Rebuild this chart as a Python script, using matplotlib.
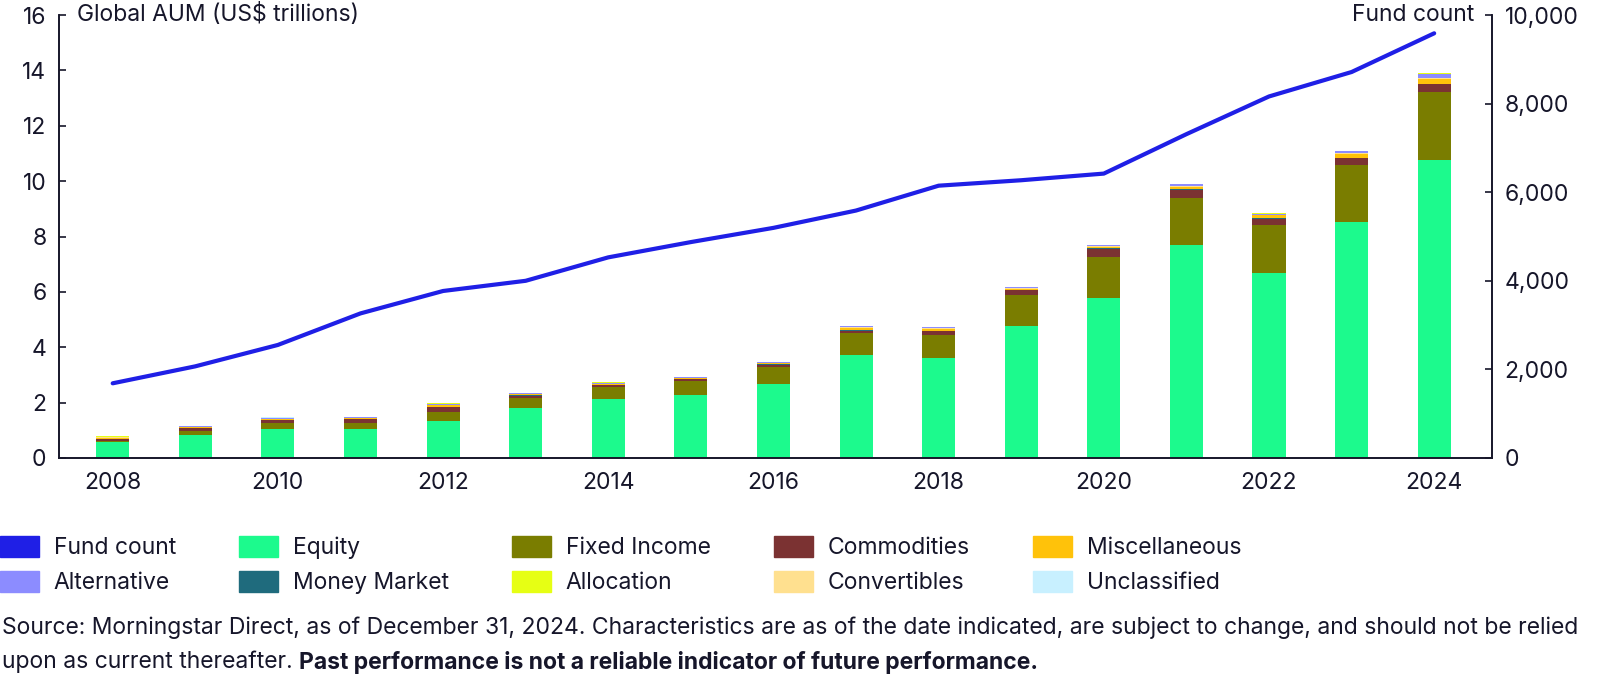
import numpy as np
import matplotlib
matplotlib.use('Agg')
import matplotlib.pyplot as plt
from matplotlib.patches import Patch

plt.rcParams['font.family'] = ['Inter', 'DejaVu Sans']

years = list(range(2008, 2025))

# AUM by category, US$ trillions
equity = [0.59, 0.83, 1.04, 1.04, 1.32, 1.81, 2.13, 2.26, 2.66, 3.72, 3.60, 4.77, 5.77, 7.69, 6.69, 8.52, 10.78]
fixed_income = [0.04, 0.14, 0.22, 0.22, 0.33, 0.37, 0.43, 0.53, 0.62, 0.78, 0.85, 1.13, 1.49, 1.71, 1.72, 2.06, 2.44]
commodities = [0.06, 0.11, 0.10, 0.15, 0.18, 0.07, 0.06, 0.05, 0.09, 0.10, 0.12, 0.16, 0.29, 0.28, 0.23, 0.24, 0.28]
money_market = [0.01, 0.01, 0.01, 0.01, 0.01, 0.01, 0.01, 0.01, 0.01, 0.02, 0.02, 0.02, 0.02, 0.02, 0.02, 0.02, 0.02]
miscellaneous = [0.04, 0.03, 0.03, 0.03, 0.06, 0.05, 0.05, 0.04, 0.05, 0.08, 0.07, 0.04, 0.06, 0.08, 0.10, 0.13, 0.16]
convertibles = [0.01, 0.01, 0.01, 0.01, 0.02, 0.01, 0.01, 0.01, 0.01, 0.02, 0.02, 0.02, 0.02, 0.03, 0.03, 0.03, 0.04]
alternative = [0.01, 0.01, 0.04, 0.02, 0.03, 0.03, 0.03, 0.02, 0.03, 0.04, 0.04, 0.03, 0.03, 0.07, 0.04, 0.08, 0.16]
allocation = [0.03, 0.02, 0.01, 0.01, 0.02, 0.01, 0.01, 0.01, 0.01, 0.01, 0.02, 0.01, 0.01, 0.01, 0.01, 0.01, 0.02]
unclassified = [0.005, 0.005, 0.005, 0.005, 0.005, 0.005, 0.005, 0.005, 0.005, 0.005, 0.005, 0.005, 0.005, 0.01, 0.01, 0.01, 0.01]

fund_count = [1686, 2069, 2552, 3264, 3770, 4000, 4529, 4874, 5195, 5586, 6147, 6270, 6420, 7310, 8161, 8713, 9587]

layers = [
    ('Equity', equity, '#1cfa8d'),
    ('Fixed Income', fixed_income, '#7a7d00'),
    ('Commodities', commodities, '#7b3232'),
    ('Money Market', money_market, '#1f6b7d'),
    ('Miscellaneous', miscellaneous, '#ffc20a'),
    ('Convertibles', convertibles, '#ffe08f'),
    ('Alternative', alternative, '#8c8cff'),
    ('Allocation', allocation, '#e6ff14'),
    ('Unclassified', unclassified, '#c8f0ff'),
]
line_color = '#1f1fe6'
text_color = '#16162a'
fs = 16.5

fig = plt.figure(figsize=(16, 6.81), dpi=100)
ax = fig.add_axes([59 / 1600, 1 - 458 / 681, (1492 - 59) / 1600, (458 - 15) / 681])
ax2 = ax.twinx()

bottom = np.zeros(len(years))
for name, vals, col in layers:
    ax.bar(years, vals, width=0.4, bottom=bottom, color=col, zorder=2)
    bottom += np.array(vals)

ax2.plot(years, fund_count, color=line_color, lw=3, solid_capstyle='round', zorder=3)

ax.set_xlim(2007.35, 2024.7)
ax.set_ylim(0, 16)
ax2.set_ylim(0, 10000)
ax.set_xticks(range(2008, 2025, 2))
ax.set_yticks(range(0, 17, 2))
ax2.set_yticks(range(0, 10001, 2000))
ax2.set_yticklabels(['0', '2,000', '4,000', '6,000', '8,000', '10,000'])

for a in (ax, ax2):
    a.spines['top'].set_visible(False)
    for s in a.spines.values():
        s.set_linewidth(1.2)
        s.set_color(text_color)
    a.tick_params(axis='y', direction='in', length=5, width=1.2, pad=9,
                  labelsize=fs, colors=text_color)
ax.tick_params(axis='x', length=0, pad=10, labelsize=fs, colors=text_color)

fig.text(77 / 1600, 1 - 15 / 681, 'Global AUM (US\\$ trillions)', fontsize=fs,
         va='center', ha='left', color=text_color)
fig.text(1474 / 1600, 1 - 15 / 681, 'Fund count', fontsize=fs,
         va='center', ha='right', color=text_color)

handles = [Patch(color=line_color, label='Fund count')]
for name, vals, col in layers:
    handles.append(Patch(color=col, label=name))
order = ['Fund count', 'Alternative', 'Equity', 'Money Market', 'Fixed Income',
         'Allocation', 'Commodities', 'Convertibles', 'Miscellaneous', 'Unclassified']
hmap = {h.get_label(): h for h in handles}
leg = fig.legend([hmap[n] for n in order], order, ncol=5, loc='upper left',
                 bbox_to_anchor=(0.0, 1 - 536 / 681), frameon=False, fontsize=fs,
                 handlelength=1.7, handleheight=1.05, handletextpad=0.65,
                 columnspacing=2.75, labelspacing=0.5, borderpad=0, borderaxespad=0)
for t in leg.get_texts():
    t.set_color(text_color)

y1 = 1 - 628 / 681
y2 = 1 - 662 / 681
fig.text(0.001, y1, 'Source: Morningstar Direct, as of December 31, 2024. Characteristics are as of '
         'the date indicated, are subject to change, and should not be relied',
         fontsize=fs, va='center', color=text_color)
t_reg = fig.text(0.001, y2, 'upon as current thereafter. ', fontsize=fs, va='center',
                 color=text_color)
fig.canvas.draw()
bb = t_reg.get_window_extent(renderer=fig.canvas.get_renderer())
fig.text(bb.x1 / fig.bbox.width, y2, 'Past performance is not a reliable indicator of future performance.',
         fontsize=fs, va='center', fontweight='bold', color=text_color)

fig.savefig('out.png', dpi=100)
